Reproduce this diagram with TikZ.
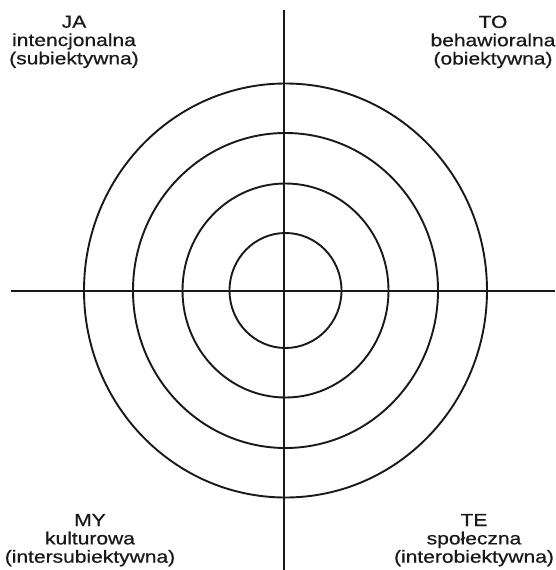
\documentclass[tikz,border=0pt]{standalone}
\usepackage{fontspec}
\setmainfont{Liberation Sans}[FakeStretch=1.2, FakeBold=0.6]
\begin{document}
\begin{tikzpicture}[x=1pt,y=-1pt,
  axis/.style={line width=1.9pt, draw=black!90},
  ring/.style={line width=1.9pt, draw=black!90},
  lab/.style={font=\fontsize{17.5}{18.3}\selectfont, align=center, inner sep=0pt, text=black!90}]
\useasboundingbox (0,0) rectangle (555,570);
\coordinate (ctr) at (285.5,290.5);
\coordinate (vtop) at (284,10);
\coordinate (vbot) at (284,570);
\coordinate (hl) at (11,291);
\coordinate (hr) at (555,291);
\draw[axis] (vtop) -- (vbot);
\draw[axis] (hl) -- (hr);
\draw[ring] (ctr) ellipse [x radius=201.5pt, y radius=207pt];
\draw[ring] (ctr) ellipse [x radius=152.5pt, y radius=157.5pt];
\draw[ring] (ctr) ellipse [x radius=103pt, y radius=107pt];
\draw[ring] (ctr) ellipse [x radius=56pt, y radius=57.5pt];
\node[lab, anchor=north] (ja) at (74,15.5) {JA\\intencjonalna\\(subiektywna)};
\node[lab, anchor=north] (to) at (493,15.5) {TO\\behawioralna\\(obiektywna)};
\node[lab, anchor=south] (my) at (90,566.5) {MY\\kulturowa\\(intersubiektywna)};
\node[lab, anchor=south] (te) at (474,566.5) {TE\\społeczna\\(interobiektywna)};
\end{tikzpicture}
\end{document}
